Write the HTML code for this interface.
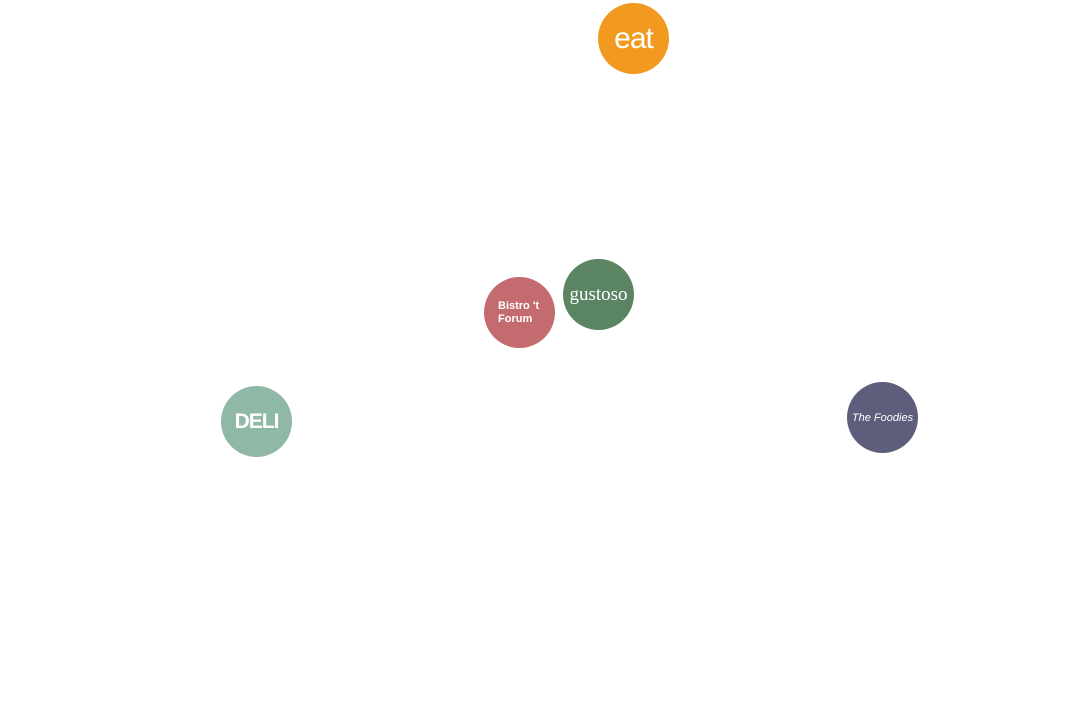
<!DOCTYPE html>
<html><head><meta charset="utf-8"><style>
body{margin:0;width:1088px;height:703px;background:#fff;position:relative;overflow:hidden;font-family:"Liberation Sans",sans-serif}
.c{position:absolute;width:71px;height:71px;border-radius:50%;color:#fff;display:flex;align-items:center;justify-content:center;text-align:center}
</style></head><body>
<div class="c" style="left:598px;top:3px;background:#f29a1f;font-size:30px;font-weight:300;letter-spacing:-1px">eat</div>
<div class="c" style="left:563px;top:259px;background:#5b8462;font-family:'Liberation Serif',serif;font-size:19px">gustoso</div>
<div class="c" style="left:484px;top:277px;background:#c46b6f;font-size:11px;font-weight:bold;line-height:13px;text-align:left;justify-content:flex-start;padding-left:14px;box-sizing:border-box">Bistro 't<br>Forum</div>
<div class="c" style="left:221px;top:386px;background:#8fb8a6;font-size:21px;font-weight:bold;letter-spacing:-1px">DELI</div>
<div class="c" style="left:847px;top:382px;background:#5d5e7b;font-size:11px;font-style:italic">The Foodies</div>
</body></html>
